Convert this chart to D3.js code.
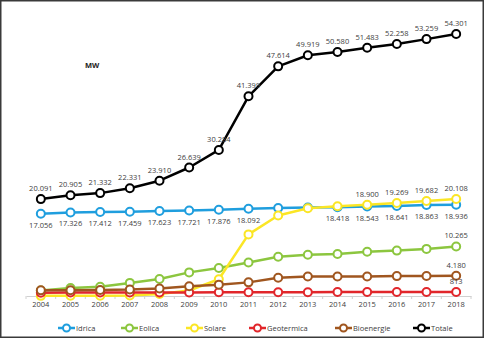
<!DOCTYPE html>
<html>
<head>
<meta charset="utf-8">
<script src="https://cdn.jsdelivr.net/npm/d3@7"></script>
<style>
  html, body { margin: 0; padding: 0; background: #fff; }
  svg { display: block; font-family: "Open Sans", sans-serif; }
</style>
</head>
<body>
<div id="chart"></div>
<script>
// chart data (MW)
const years = [2004, 2005, 2006, 2007, 2008, 2009, 2010, 2011, 2012, 2013, 2014, 2015, 2016, 2017, 2018];
const idrica = [17056, 17326, 17412, 17459, 17623, 17721, 17876, 18092, 18232, 18366, 18418, 18543, 18641, 18863, 18936];
const eolica = [1131, 1639, 1908, 2714, 3538, 4898, 5814, 6936, 8119, 8561, 8703, 9162, 9410, 9766, 10265];
const solare = [31, 34, 50, 87, 432, 1144, 3470, 12773, 16690, 18185, 18594, 18900, 19269, 19682, 20108];
const geotermica = [681, 711, 711, 711, 711, 737, 772, 772, 772, 773, 821, 821, 815, 813, 813];
const bioenergie = [1171, 1201, 1256, 1336, 1555, 2019, 2352, 2825, 3802, 4033, 4044, 4057, 4124, 4135, 4180];
const totale = [20091, 20905, 21332, 22331, 23910, 26639, 30284, 41399, 47614, 49919, 50580, 51483, 52258, 53259, 54301];

const seriesNames = ["Idrica", "Eolica", "Solare", "Geotermica", "Bioenergie", "Totale"];
const seriesValues = [idrica, eolica, solare, geotermica, bioenergie, totale];
const seriesColors = ["#1f9ede", "#8cc63f", "#fbe625", "#e1262b", "#a0561f", "#000000"];
// which years carry a data label, and whether it sits above or below the point
const labelYears = [
  [2004, 2005, 2006, 2007, 2008, 2009, 2010, 2011, 2014, 2015, 2016, 2017, 2018],
  [2018],
  [2015, 2016, 2017, 2018],
  [2018],
  [2018],
  years
];
const labelSide = ["below", "above", "above", "above", "above", "above"];

const width = 484, height = 338;
const fmt = (v) => d3.format(",")(v).replace(/,/g, ".");

const svg = d3.select("#chart").append("svg")
  .attr("width", width)
  .attr("height", height)
  .attr("viewBox", [0, 0, width, height]);

svg.append("rect")
  .attr("x", 0.75).attr("y", 0.75)
  .attr("width", width - 1.5).attr("height", height - 1.5)
  .attr("fill", "#fff")
  .attr("stroke", "#3a3a3a")
  .attr("stroke-width", 1.5);

// scales
const xBand = d3.scaleBand(years, [26, 471]);
const x = (yr) => xBand(yr) + xBand.bandwidth() / 2;
const y = d3.scaleLinear([0, 60000], [296, 6.6]);

// x axis
const xAxis = d3.axisBottom(xBand).tickSize(0).tickPadding(6);
const gx = svg.append("g")
  .attr("transform", `translate(0,${y(0)})`)
  .call(xAxis);
gx.select(".domain").attr("stroke", "#d0d0d0").attr("stroke-width", 1);
gx.selectAll(".tick text")
  .attr("font-size", 7.5)
  .attr("font-family", "Open Sans")
  .attr("fill", "#404040");
// tick marks between categories
gx.selectAll("line.sep")
  .data(d3.range(years.length + 1))
  .join("line")
  .attr("class", "sep")
  .attr("x1", (i) => 26 + i * xBand.step())
  .attr("x2", (i) => 26 + i * xBand.step())
  .attr("y1", 0)
  .attr("y2", 3)
  .attr("stroke", "#d0d0d0");

// unit label
svg.append("text")
  .attr("x", 85)
  .attr("y", 68)
  .attr("font-size", 7.5)
  .attr("font-weight", 700)
  .attr("fill", "#222")
  .text("MW");

const line = d3.line()
  .x((d, i) => x(years[i]))
  .y((d) => y(d));

// series
seriesValues.forEach((vals, s) => {
  const g = svg.append("g");
  g.append("path")
    .attr("d", line(vals))
    .attr("fill", "none")
    .attr("stroke", seriesColors[s])
    .attr("stroke-width", 2.5)
    .attr("stroke-linejoin", "round");
  g.selectAll("circle")
    .data(vals)
    .join("circle")
    .attr("cx", (d, i) => x(years[i]))
    .attr("cy", (d) => y(d))
    .attr("r", 4)
    .attr("fill", "#fff")
    .attr("stroke", seriesColors[s])
    .attr("stroke-width", 2);
});

// data labels
seriesValues.forEach((vals, s) => {
  const idx = labelYears[s].map((yr) => years.indexOf(yr));
  svg.append("g")
    .selectAll("text")
    .data(idx)
    .join("text")
    .attr("x", (i) => x(years[i]))
    .attr("y", (i) => y(vals[i]) + (labelSide[s] === "below" ? 14 : -8))
    .attr("text-anchor", "middle")
    .attr("font-size", 7.5)
    .attr("font-family", "Open Sans")
    .attr("fill", "#404040")
    .text((i) => fmt(vals[i]));
});

// legend (left edge of each entry)
const legendX = [58, 121, 186, 249, 335, 413];
const legend = svg.append("g").attr("transform", "translate(0,328)");
seriesNames.forEach((name, s) => {
  const item = legend.append("g").attr("transform", `translate(${legendX[s]},0)`);
  item.append("line")
    .attr("x1", 0).attr("x2", 17)
    .attr("y1", 0).attr("y2", 0)
    .attr("stroke", seriesColors[s])
    .attr("stroke-width", 2.5);
  item.append("circle")
    .attr("cx", 8.5).attr("cy", 0).attr("r", 3.5)
    .attr("fill", "#fff")
    .attr("stroke", seriesColors[s])
    .attr("stroke-width", 2);
  item.append("text")
    .attr("x", 18)
    .attr("y", 0)
    .attr("dy", "0.35em")
    .attr("font-size", 7.5)
    .attr("font-family", "Open Sans")
    .attr("fill", "#404040")
    .text(name);
});
</script>
</body>
</html>
